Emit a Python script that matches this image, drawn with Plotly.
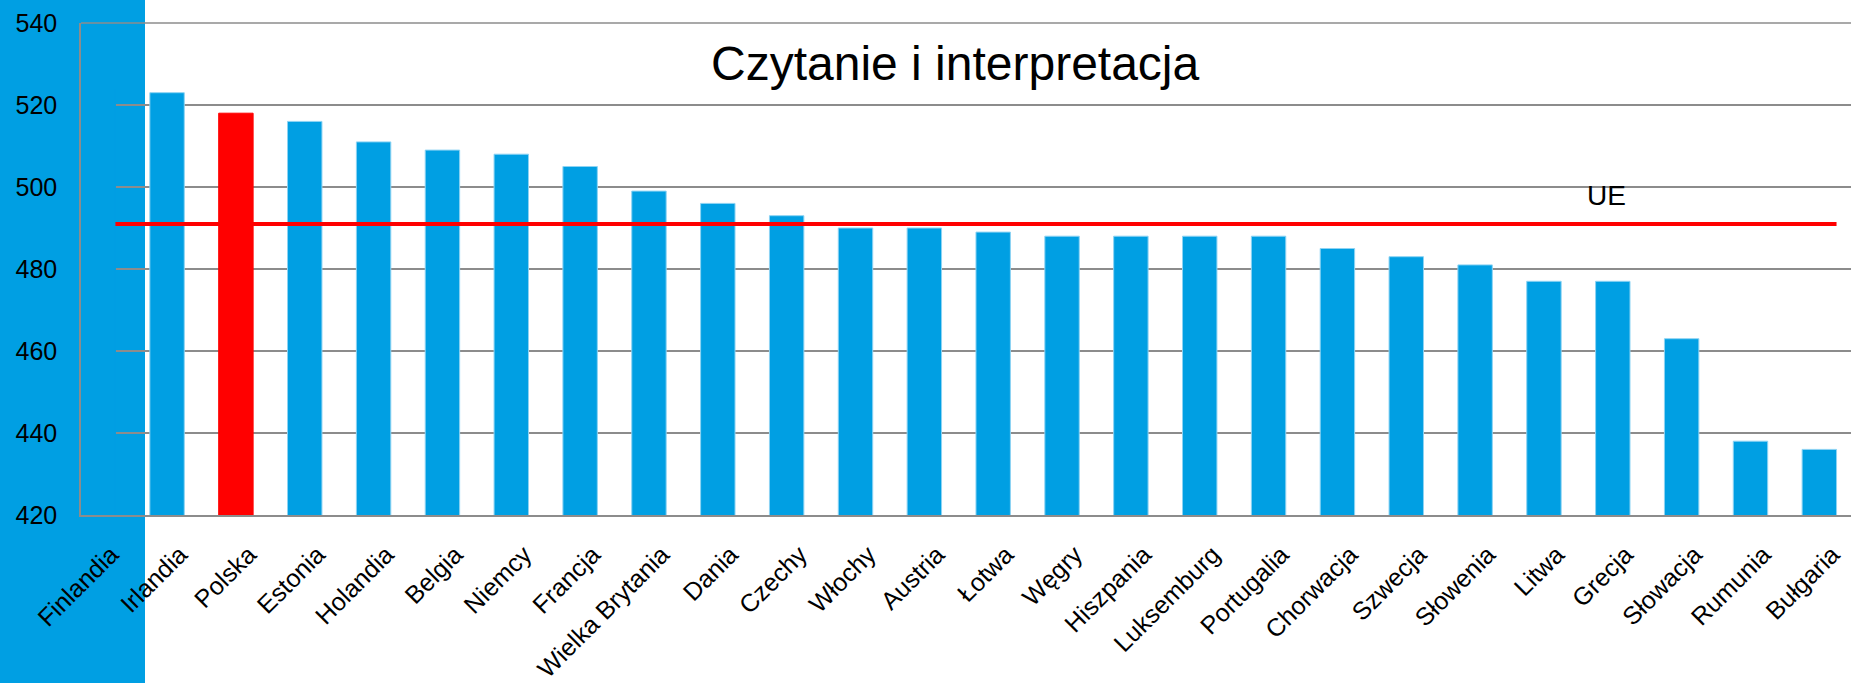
import plotly.graph_objects as go

# ---- data ----
countries = ["Finlandia", "Irlandia", "Polska", "Estonia", "Holandia", "Belgia", "Niemcy",
             "Francja", "Wielka Brytania", "Dania", "Czechy", "Włochy", "Austria", "Łotwa",
             "Węgry", "Hiszpania", "Luksemburg", "Portugalia", "Chorwacja", "Szwecja",
             "Słowenia", "Litwa", "Grecja", "Słowacja", "Rumunia", "Bułgaria"]
scores = [524, 523, 518, 516, 511, 509, 508, 505, 499, 496, 493, 490, 490, 489,
          488, 488, 488, 488, 485, 483, 481, 477, 477, 463, 438, 436]
highlight = "Polska"
eu_avg = 491
eu_label = "UE"
title_text = "Czytanie i interpretacja"
y_ticks = [420, 440, 460, 480, 500, 520, 540]

BLUE = "#009FE3"
RED = "#FF0000"
GRID = "#8C8C8C"
FONT = "Liberation Sans, Arial, sans-serif"

W, H = 1851, 683
ML, MR, MT, MB = 81, 0, 23, 165
pw = W - ML - MR
ph = H - MT - MB

colors = [RED if c == highlight else BLUE for c in countries]
edge = [RED if c == highlight else "#8DD3F3" for c in countries]
edge[0] = BLUE  # first bar blends into the blue band

fig = go.Figure()
fig.add_trace(go.Bar(
    x=countries, y=scores, width=0.5,
    marker=dict(color=colors, line=dict(color=edge, width=1)),
    hoverinfo="x+y", showlegend=False,
))

# blue band on the left (decoration)
fig.add_shape(type="rect", xref="paper", yref="paper",
              x0=-ML / pw, x1=(145 - ML) / pw, y0=-0.6, y1=1.2,
              fillcolor=BLUE, line=dict(width=0), layer="below")

# top border line (540)
fig.add_shape(type="line", xref="paper", yref="paper",
              x0=0, x1=1, y0=1, y1=1,
              line=dict(color=GRID, width=1.5), layer="below")

# EU average line
fig.add_shape(type="line", xref="x", yref="y",
              x0=0.25, x1=len(countries) - 0.75, y0=eu_avg, y1=eu_avg,
              line=dict(color=RED, width=4), layer="above")

fig.add_annotation(x=21.91, y=eu_avg + 6.9, xref="x", yref="y", text=eu_label,
                   showarrow=False, font=dict(size=28, color="black", family=FONT),
                   xanchor="center", yanchor="middle")

fig.add_annotation(x=(955 - ML) / pw, y=(H - MB - 64) / ph, xref="paper", yref="paper",
                   text=title_text, showarrow=False,
                   font=dict(size=48, color="black", family=FONT),
                   xanchor="center", yanchor="middle")

fig.update_layout(
    width=W, height=H,
    margin=dict(l=ML, r=MR, t=MT, b=MB, pad=0),
    paper_bgcolor="white", plot_bgcolor="white",
    font=dict(family=FONT, color="black", size=25),
    bargap=0.5,
)
fig.update_xaxes(
    type="category", range=[-0.25, 25.46], tickangle=-45,
    showgrid=False, showline=True, linecolor=GRID, linewidth=2,
    ticks="outside", ticklen=13, tickcolor="rgba(0,0,0,0)",
    ticklabelshift=13,
    tickfont=dict(size=25, color="black", family=FONT),
)
fig.update_yaxes(
    range=[420, 540], tickvals=y_ticks,
    showgrid=True, gridcolor=GRID, gridwidth=1.5,
    showline=True, linecolor=GRID, linewidth=1.5, zeroline=False,
    ticks="outside", ticklen=17, tickcolor="rgba(0,0,0,0)",
    tickfont=dict(size=25, color="black", family=FONT),
)

fig.write_html("out.html", config={"displayModeBar": False},
               post_script="document.body.style.margin='0';document.body.style.overflow='hidden';")
